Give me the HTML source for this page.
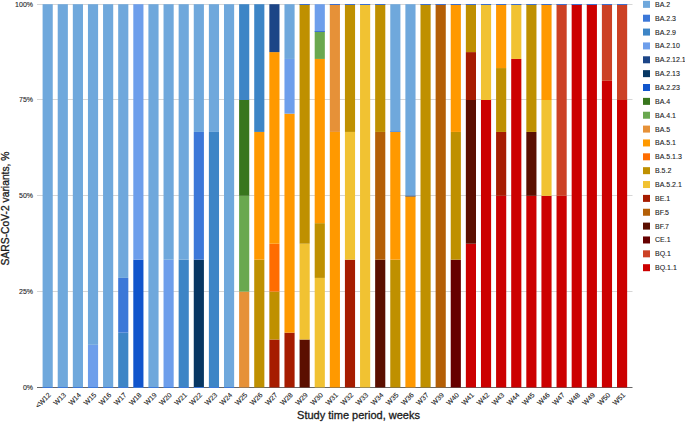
<!DOCTYPE html><html><head><meta charset="utf-8"><style>html,body{margin:0;padding:0;background:#fff;width:685px;height:422px;overflow:hidden}svg{display:block}text{font-family:"Liberation Sans", sans-serif}</style></head><body>
<svg width="685" height="422" viewBox="0 0 685 422">
<rect width="685" height="422" fill="#fff"/>
<rect x="37" y="4.00" width="595.5" height="1" fill="#d6d6d6"/>
<rect x="37" y="99.00" width="595.5" height="1" fill="#d6d6d6"/>
<rect x="37" y="195.00" width="595.5" height="1" fill="#d6d6d6"/>
<rect x="37" y="291.00" width="595.5" height="1" fill="#d6d6d6"/>
<text x="33" y="7.00" font-size="7" fill="#1a1a1a" stroke="#1a1a1a" stroke-width="0.1" text-anchor="end">100%</text>
<text x="33" y="102.00" font-size="7" fill="#1a1a1a" stroke="#1a1a1a" stroke-width="0.1" text-anchor="end">75%</text>
<text x="33" y="198.00" font-size="7" fill="#1a1a1a" stroke="#1a1a1a" stroke-width="0.1" text-anchor="end">50%</text>
<text x="33" y="294.00" font-size="7" fill="#1a1a1a" stroke="#1a1a1a" stroke-width="0.1" text-anchor="end">25%</text>
<text x="33" y="390.00" font-size="7" fill="#1a1a1a" stroke="#1a1a1a" stroke-width="0.1" text-anchor="end">0%</text>
<rect x="37" y="387" width="595.5" height="1" fill="#666"/>
<rect x="42.60" y="4.20" width="10.15" height="383.20" fill="#6fa8dc"/>
<rect x="57.72" y="4.20" width="10.15" height="383.20" fill="#6fa8dc"/>
<rect x="72.83" y="4.20" width="10.15" height="383.20" fill="#6fa8dc"/>
<rect x="87.95" y="344.82" width="10.15" height="42.58" fill="#6d9eeb"/>
<rect x="87.95" y="4.20" width="10.15" height="340.62" fill="#6fa8dc"/>
<rect x="103.06" y="4.20" width="10.15" height="383.20" fill="#6fa8dc"/>
<rect x="118.18" y="332.66" width="10.15" height="54.74" fill="#3d85c6"/>
<rect x="118.18" y="277.91" width="10.15" height="54.74" fill="#3c78d8"/>
<rect x="118.18" y="4.20" width="10.15" height="273.71" fill="#6fa8dc"/>
<rect x="133.30" y="259.67" width="10.15" height="127.73" fill="#1155cc"/>
<rect x="133.30" y="4.20" width="10.15" height="255.47" fill="#6d9eeb"/>
<rect x="148.41" y="4.20" width="10.15" height="383.20" fill="#6fa8dc"/>
<rect x="163.53" y="259.67" width="10.15" height="127.73" fill="#6d9eeb"/>
<rect x="163.53" y="4.20" width="10.15" height="255.47" fill="#6fa8dc"/>
<rect x="178.64" y="259.67" width="10.15" height="127.73" fill="#3d85c6"/>
<rect x="178.64" y="4.20" width="10.15" height="255.47" fill="#6fa8dc"/>
<rect x="193.76" y="259.67" width="10.15" height="127.73" fill="#073763"/>
<rect x="193.76" y="131.93" width="10.15" height="127.73" fill="#3c78d8"/>
<rect x="193.76" y="4.20" width="10.15" height="127.73" fill="#6fa8dc"/>
<rect x="208.88" y="131.93" width="10.15" height="255.47" fill="#3d85c6"/>
<rect x="208.88" y="4.20" width="10.15" height="127.73" fill="#6fa8dc"/>
<rect x="223.99" y="4.20" width="10.15" height="383.20" fill="#6fa8dc"/>
<rect x="239.11" y="291.60" width="10.15" height="95.80" fill="#e69138"/>
<rect x="239.11" y="195.80" width="10.15" height="95.80" fill="#6aa84f"/>
<rect x="239.11" y="100.00" width="10.15" height="95.80" fill="#38761d"/>
<rect x="239.11" y="4.20" width="10.15" height="95.80" fill="#3d85c6"/>
<rect x="254.22" y="259.67" width="10.15" height="127.73" fill="#bf9000"/>
<rect x="254.22" y="131.93" width="10.15" height="127.73" fill="#ff9900"/>
<rect x="254.22" y="4.20" width="10.15" height="127.73" fill="#3d85c6"/>
<rect x="269.34" y="339.50" width="10.15" height="47.90" fill="#a61c00"/>
<rect x="269.34" y="291.60" width="10.15" height="47.90" fill="#bf9000"/>
<rect x="269.34" y="243.70" width="10.15" height="47.90" fill="#ff6d01"/>
<rect x="269.34" y="52.10" width="10.15" height="191.60" fill="#ff9900"/>
<rect x="269.34" y="4.20" width="10.15" height="47.90" fill="#1c4587"/>
<rect x="284.46" y="332.66" width="10.15" height="54.74" fill="#a61c00"/>
<rect x="284.46" y="113.69" width="10.15" height="218.97" fill="#ff9900"/>
<rect x="284.46" y="58.94" width="10.15" height="54.74" fill="#6d9eeb"/>
<rect x="284.46" y="4.20" width="10.15" height="54.74" fill="#6fa8dc"/>
<rect x="299.57" y="339.50" width="10.15" height="47.90" fill="#5b0f00"/>
<rect x="299.57" y="243.70" width="10.15" height="95.80" fill="#f1c232"/>
<rect x="299.57" y="4.20" width="10.15" height="239.50" fill="#bf9000"/>
<rect x="299.57" y="4" width="10.15" height="1" fill="#3c6fd0"/>
<rect x="314.69" y="277.91" width="10.15" height="109.49" fill="#f1c232"/>
<rect x="314.69" y="223.17" width="10.15" height="54.74" fill="#bf9000"/>
<rect x="314.69" y="58.94" width="10.15" height="164.23" fill="#ff9900"/>
<rect x="314.69" y="31.57" width="10.15" height="27.37" fill="#6aa84f"/>
<rect x="314.69" y="4.20" width="10.15" height="27.37" fill="#6d9eeb"/>
<rect x="329.80" y="131.93" width="10.15" height="255.47" fill="#ff9900"/>
<rect x="329.80" y="4.20" width="10.15" height="127.73" fill="#e69138"/>
<rect x="329.80" y="4" width="10.15" height="1" fill="#3c6fd0"/>
<rect x="344.92" y="259.67" width="10.15" height="127.73" fill="#a61c00"/>
<rect x="344.92" y="131.93" width="10.15" height="127.73" fill="#f1c232"/>
<rect x="344.92" y="4.20" width="10.15" height="127.73" fill="#bf9000"/>
<rect x="344.92" y="4" width="10.15" height="1" fill="#3c6fd0"/>
<rect x="360.04" y="4.20" width="10.15" height="383.20" fill="#f1c232"/>
<rect x="360.04" y="4" width="10.15" height="1" fill="#3c6fd0"/>
<rect x="375.15" y="259.67" width="10.15" height="127.73" fill="#5b0f00"/>
<rect x="375.15" y="131.93" width="10.15" height="127.73" fill="#b45f06"/>
<rect x="375.15" y="4.20" width="10.15" height="127.73" fill="#bf9000"/>
<rect x="375.15" y="4" width="10.15" height="1" fill="#3c6fd0"/>
<rect x="390.27" y="259.67" width="10.15" height="127.73" fill="#bf9000"/>
<rect x="390.27" y="131.93" width="10.15" height="127.73" fill="#ff9900"/>
<rect x="390.27" y="4.20" width="10.15" height="127.73" fill="#6fa8dc"/>
<rect x="405.38" y="195.80" width="10.15" height="191.60" fill="#ff9900"/>
<rect x="405.38" y="4.20" width="10.15" height="191.60" fill="#6fa8dc"/>
<rect x="420.50" y="4.20" width="10.15" height="383.20" fill="#bf9000"/>
<rect x="420.50" y="4" width="10.15" height="1" fill="#3c6fd0"/>
<rect x="435.62" y="4.20" width="10.15" height="383.20" fill="#b45f06"/>
<rect x="435.62" y="4" width="10.15" height="1" fill="#3c6fd0"/>
<rect x="450.73" y="259.67" width="10.15" height="127.73" fill="#660000"/>
<rect x="450.73" y="131.93" width="10.15" height="127.73" fill="#bf9000"/>
<rect x="450.73" y="4.20" width="10.15" height="127.73" fill="#ff9900"/>
<rect x="450.73" y="4" width="10.15" height="1" fill="#3c6fd0"/>
<rect x="465.85" y="243.70" width="10.15" height="143.70" fill="#cc0000"/>
<rect x="465.85" y="100.00" width="10.15" height="143.70" fill="#5b0f00"/>
<rect x="465.85" y="52.10" width="10.15" height="47.90" fill="#a61c00"/>
<rect x="465.85" y="4.20" width="10.15" height="47.90" fill="#bf9000"/>
<rect x="465.85" y="4" width="10.15" height="1" fill="#3c6fd0"/>
<rect x="480.96" y="100.00" width="10.15" height="287.40" fill="#cc0000"/>
<rect x="480.96" y="4.20" width="10.15" height="95.80" fill="#f1c232"/>
<rect x="480.96" y="4" width="10.15" height="1" fill="#3c6fd0"/>
<rect x="496.08" y="195.80" width="10.15" height="191.60" fill="#cc0000"/>
<rect x="496.08" y="131.93" width="10.15" height="63.87" fill="#a61c00"/>
<rect x="496.08" y="68.07" width="10.15" height="63.87" fill="#bf9000"/>
<rect x="496.08" y="4.20" width="10.15" height="63.87" fill="#ff9900"/>
<rect x="496.08" y="4" width="10.15" height="1" fill="#3c6fd0"/>
<rect x="511.20" y="58.94" width="10.15" height="328.46" fill="#cc0000"/>
<rect x="511.20" y="4.20" width="10.15" height="54.74" fill="#f1c232"/>
<rect x="511.20" y="4" width="10.15" height="1" fill="#3c6fd0"/>
<rect x="526.31" y="195.80" width="10.15" height="191.60" fill="#cc0000"/>
<rect x="526.31" y="131.93" width="10.15" height="63.87" fill="#5b0f00"/>
<rect x="526.31" y="4.20" width="10.15" height="127.73" fill="#bf9000"/>
<rect x="526.31" y="4" width="10.15" height="1" fill="#3c6fd0"/>
<rect x="541.43" y="195.80" width="10.15" height="191.60" fill="#cc0000"/>
<rect x="541.43" y="100.00" width="10.15" height="95.80" fill="#f1c232"/>
<rect x="541.43" y="4.20" width="10.15" height="95.80" fill="#ff9900"/>
<rect x="541.43" y="4" width="10.15" height="1" fill="#3c6fd0"/>
<rect x="556.54" y="195.80" width="10.15" height="191.60" fill="#cc0000"/>
<rect x="556.54" y="4.20" width="10.15" height="191.60" fill="#cc4125"/>
<rect x="556.54" y="4" width="10.15" height="1" fill="#3c6fd0"/>
<rect x="571.66" y="4.20" width="10.15" height="383.20" fill="#cc0000"/>
<rect x="571.66" y="4" width="10.15" height="1" fill="#3c6fd0"/>
<rect x="586.78" y="4.20" width="10.15" height="383.20" fill="#cc0000"/>
<rect x="586.78" y="4" width="10.15" height="1" fill="#3c6fd0"/>
<rect x="601.89" y="80.84" width="10.15" height="306.56" fill="#cc0000"/>
<rect x="601.89" y="4.20" width="10.15" height="76.64" fill="#cc4125"/>
<rect x="601.89" y="4" width="10.15" height="1" fill="#3c6fd0"/>
<rect x="617.01" y="100.00" width="10.15" height="287.40" fill="#cc0000"/>
<rect x="617.01" y="4.20" width="10.15" height="95.80" fill="#cc4125"/>
<rect x="617.01" y="4" width="10.15" height="1" fill="#3c6fd0"/>
<rect x="314.69" y="31" width="10.15" height="1" fill="#3c72d4"/>
<rect x="390.27" y="131" width="10.15" height="1" fill="#5d97e2"/>
<rect x="405.38" y="195.6" width="10.15" height="1" fill="#4a6aa6"/>
<rect x="42.60" y="387" width="10.15" height="1" fill="#3c78d8"/>
<rect x="57.72" y="387" width="10.15" height="1" fill="#3c78d8"/>
<rect x="72.83" y="387" width="10.15" height="1" fill="#3c78d8"/>
<rect x="87.95" y="387" width="10.15" height="1" fill="#3c78d8"/>
<rect x="103.06" y="387" width="10.15" height="1" fill="#3c78d8"/>
<rect x="118.18" y="387" width="10.15" height="1" fill="#3c78d8"/>
<rect x="133.30" y="387" width="10.15" height="1" fill="#3c78d8"/>
<rect x="148.41" y="387" width="10.15" height="1" fill="#3c78d8"/>
<rect x="163.53" y="387" width="10.15" height="1" fill="#3c78d8"/>
<rect x="178.64" y="387" width="10.15" height="1" fill="#3c78d8"/>
<rect x="193.76" y="387" width="10.15" height="1" fill="#3c78d8"/>
<rect x="208.88" y="387" width="10.15" height="1" fill="#3c78d8"/>
<rect x="223.99" y="387" width="10.15" height="1" fill="#3c78d8"/>
<text transform="translate(51.38 395.50) rotate(-45)" font-size="7" fill="#1a1a1a" stroke="#1a1a1a" stroke-width="0.1" text-anchor="end">&lt;W12</text>
<text transform="translate(66.49 395.50) rotate(-45)" font-size="7" fill="#1a1a1a" stroke="#1a1a1a" stroke-width="0.1" text-anchor="end">W13</text>
<text transform="translate(81.61 395.50) rotate(-45)" font-size="7" fill="#1a1a1a" stroke="#1a1a1a" stroke-width="0.1" text-anchor="end">W14</text>
<text transform="translate(96.72 395.50) rotate(-45)" font-size="7" fill="#1a1a1a" stroke="#1a1a1a" stroke-width="0.1" text-anchor="end">W15</text>
<text transform="translate(111.84 395.50) rotate(-45)" font-size="7" fill="#1a1a1a" stroke="#1a1a1a" stroke-width="0.1" text-anchor="end">W16</text>
<text transform="translate(126.96 395.50) rotate(-45)" font-size="7" fill="#1a1a1a" stroke="#1a1a1a" stroke-width="0.1" text-anchor="end">W17</text>
<text transform="translate(142.07 395.50) rotate(-45)" font-size="7" fill="#1a1a1a" stroke="#1a1a1a" stroke-width="0.1" text-anchor="end">W18</text>
<text transform="translate(157.19 395.50) rotate(-45)" font-size="7" fill="#1a1a1a" stroke="#1a1a1a" stroke-width="0.1" text-anchor="end">W19</text>
<text transform="translate(172.30 395.50) rotate(-45)" font-size="7" fill="#1a1a1a" stroke="#1a1a1a" stroke-width="0.1" text-anchor="end">W20</text>
<text transform="translate(187.42 395.50) rotate(-45)" font-size="7" fill="#1a1a1a" stroke="#1a1a1a" stroke-width="0.1" text-anchor="end">W21</text>
<text transform="translate(202.53 395.50) rotate(-45)" font-size="7" fill="#1a1a1a" stroke="#1a1a1a" stroke-width="0.1" text-anchor="end">W22</text>
<text transform="translate(217.65 395.50) rotate(-45)" font-size="7" fill="#1a1a1a" stroke="#1a1a1a" stroke-width="0.1" text-anchor="end">W23</text>
<text transform="translate(232.77 395.50) rotate(-45)" font-size="7" fill="#1a1a1a" stroke="#1a1a1a" stroke-width="0.1" text-anchor="end">W24</text>
<text transform="translate(247.88 395.50) rotate(-45)" font-size="7" fill="#1a1a1a" stroke="#1a1a1a" stroke-width="0.1" text-anchor="end">W25</text>
<text transform="translate(263.00 395.50) rotate(-45)" font-size="7" fill="#1a1a1a" stroke="#1a1a1a" stroke-width="0.1" text-anchor="end">W26</text>
<text transform="translate(278.12 395.50) rotate(-45)" font-size="7" fill="#1a1a1a" stroke="#1a1a1a" stroke-width="0.1" text-anchor="end">W27</text>
<text transform="translate(293.23 395.50) rotate(-45)" font-size="7" fill="#1a1a1a" stroke="#1a1a1a" stroke-width="0.1" text-anchor="end">W28</text>
<text transform="translate(308.35 395.50) rotate(-45)" font-size="7" fill="#1a1a1a" stroke="#1a1a1a" stroke-width="0.1" text-anchor="end">W29</text>
<text transform="translate(323.46 395.50) rotate(-45)" font-size="7" fill="#1a1a1a" stroke="#1a1a1a" stroke-width="0.1" text-anchor="end">W30</text>
<text transform="translate(338.58 395.50) rotate(-45)" font-size="7" fill="#1a1a1a" stroke="#1a1a1a" stroke-width="0.1" text-anchor="end">W31</text>
<text transform="translate(353.69 395.50) rotate(-45)" font-size="7" fill="#1a1a1a" stroke="#1a1a1a" stroke-width="0.1" text-anchor="end">W32</text>
<text transform="translate(368.81 395.50) rotate(-45)" font-size="7" fill="#1a1a1a" stroke="#1a1a1a" stroke-width="0.1" text-anchor="end">W33</text>
<text transform="translate(383.93 395.50) rotate(-45)" font-size="7" fill="#1a1a1a" stroke="#1a1a1a" stroke-width="0.1" text-anchor="end">W34</text>
<text transform="translate(399.04 395.50) rotate(-45)" font-size="7" fill="#1a1a1a" stroke="#1a1a1a" stroke-width="0.1" text-anchor="end">W35</text>
<text transform="translate(414.16 395.50) rotate(-45)" font-size="7" fill="#1a1a1a" stroke="#1a1a1a" stroke-width="0.1" text-anchor="end">W36</text>
<text transform="translate(429.27 395.50) rotate(-45)" font-size="7" fill="#1a1a1a" stroke="#1a1a1a" stroke-width="0.1" text-anchor="end">W37</text>
<text transform="translate(444.39 395.50) rotate(-45)" font-size="7" fill="#1a1a1a" stroke="#1a1a1a" stroke-width="0.1" text-anchor="end">W39</text>
<text transform="translate(459.51 395.50) rotate(-45)" font-size="7" fill="#1a1a1a" stroke="#1a1a1a" stroke-width="0.1" text-anchor="end">W40</text>
<text transform="translate(474.62 395.50) rotate(-45)" font-size="7" fill="#1a1a1a" stroke="#1a1a1a" stroke-width="0.1" text-anchor="end">W41</text>
<text transform="translate(489.74 395.50) rotate(-45)" font-size="7" fill="#1a1a1a" stroke="#1a1a1a" stroke-width="0.1" text-anchor="end">W42</text>
<text transform="translate(504.86 395.50) rotate(-45)" font-size="7" fill="#1a1a1a" stroke="#1a1a1a" stroke-width="0.1" text-anchor="end">W43</text>
<text transform="translate(519.97 395.50) rotate(-45)" font-size="7" fill="#1a1a1a" stroke="#1a1a1a" stroke-width="0.1" text-anchor="end">W44</text>
<text transform="translate(535.09 395.50) rotate(-45)" font-size="7" fill="#1a1a1a" stroke="#1a1a1a" stroke-width="0.1" text-anchor="end">W45</text>
<text transform="translate(550.20 395.50) rotate(-45)" font-size="7" fill="#1a1a1a" stroke="#1a1a1a" stroke-width="0.1" text-anchor="end">W46</text>
<text transform="translate(565.32 395.50) rotate(-45)" font-size="7" fill="#1a1a1a" stroke="#1a1a1a" stroke-width="0.1" text-anchor="end">W47</text>
<text transform="translate(580.44 395.50) rotate(-45)" font-size="7" fill="#1a1a1a" stroke="#1a1a1a" stroke-width="0.1" text-anchor="end">W48</text>
<text transform="translate(595.55 395.50) rotate(-45)" font-size="7" fill="#1a1a1a" stroke="#1a1a1a" stroke-width="0.1" text-anchor="end">W49</text>
<text transform="translate(610.67 395.50) rotate(-45)" font-size="7" fill="#1a1a1a" stroke="#1a1a1a" stroke-width="0.1" text-anchor="end">W50</text>
<text transform="translate(625.78 395.50) rotate(-45)" font-size="7" fill="#1a1a1a" stroke="#1a1a1a" stroke-width="0.1" text-anchor="end">W51</text>
<rect x="643" y="0.85" width="7" height="7" fill="#6fa8dc"/>
<text x="655" y="6.85" font-size="7" fill="#1a1a1a" stroke="#1a1a1a" stroke-width="0.1">BA.2</text>
<rect x="643" y="14.71" width="7" height="7" fill="#3c78d8"/>
<text x="655" y="20.71" font-size="7" fill="#1a1a1a" stroke="#1a1a1a" stroke-width="0.1">BA.2.3</text>
<rect x="643" y="28.57" width="7" height="7" fill="#3d85c6"/>
<text x="655" y="34.57" font-size="7" fill="#1a1a1a" stroke="#1a1a1a" stroke-width="0.1">BA.2.9</text>
<rect x="643" y="42.43" width="7" height="7" fill="#6d9eeb"/>
<text x="655" y="48.43" font-size="7" fill="#1a1a1a" stroke="#1a1a1a" stroke-width="0.1">BA.2.10</text>
<rect x="643" y="56.29" width="7" height="7" fill="#1c4587"/>
<text x="655" y="62.29" font-size="7" fill="#1a1a1a" stroke="#1a1a1a" stroke-width="0.1">BA.2.12.1</text>
<rect x="643" y="70.15" width="7" height="7" fill="#073763"/>
<text x="655" y="76.15" font-size="7" fill="#1a1a1a" stroke="#1a1a1a" stroke-width="0.1">BA.2.13</text>
<rect x="643" y="84.01" width="7" height="7" fill="#1155cc"/>
<text x="655" y="90.01" font-size="7" fill="#1a1a1a" stroke="#1a1a1a" stroke-width="0.1">BA.2.23</text>
<rect x="643" y="97.87" width="7" height="7" fill="#38761d"/>
<text x="655" y="103.87" font-size="7" fill="#1a1a1a" stroke="#1a1a1a" stroke-width="0.1">BA.4</text>
<rect x="643" y="111.73" width="7" height="7" fill="#6aa84f"/>
<text x="655" y="117.73" font-size="7" fill="#1a1a1a" stroke="#1a1a1a" stroke-width="0.1">BA.4.1</text>
<rect x="643" y="125.59" width="7" height="7" fill="#e69138"/>
<text x="655" y="131.59" font-size="7" fill="#1a1a1a" stroke="#1a1a1a" stroke-width="0.1">BA.5</text>
<rect x="643" y="139.45" width="7" height="7" fill="#ff9900"/>
<text x="655" y="145.45" font-size="7" fill="#1a1a1a" stroke="#1a1a1a" stroke-width="0.1">BA.5.1</text>
<rect x="643" y="153.31" width="7" height="7" fill="#ff6d01"/>
<text x="655" y="159.31" font-size="7" fill="#1a1a1a" stroke="#1a1a1a" stroke-width="0.1">BA.5.1.3</text>
<rect x="643" y="167.17" width="7" height="7" fill="#bf9000"/>
<text x="655" y="173.17" font-size="7" fill="#1a1a1a" stroke="#1a1a1a" stroke-width="0.1">B.5.2</text>
<rect x="643" y="181.03" width="7" height="7" fill="#f1c232"/>
<text x="655" y="187.03" font-size="7" fill="#1a1a1a" stroke="#1a1a1a" stroke-width="0.1">BA.5.2.1</text>
<rect x="643" y="194.89" width="7" height="7" fill="#a61c00"/>
<text x="655" y="200.89" font-size="7" fill="#1a1a1a" stroke="#1a1a1a" stroke-width="0.1">BE.1</text>
<rect x="643" y="208.75" width="7" height="7" fill="#b45f06"/>
<text x="655" y="214.75" font-size="7" fill="#1a1a1a" stroke="#1a1a1a" stroke-width="0.1">BF.5</text>
<rect x="643" y="222.61" width="7" height="7" fill="#5b0f00"/>
<text x="655" y="228.61" font-size="7" fill="#1a1a1a" stroke="#1a1a1a" stroke-width="0.1">BF.7</text>
<rect x="643" y="236.47" width="7" height="7" fill="#660000"/>
<text x="655" y="242.47" font-size="7" fill="#1a1a1a" stroke="#1a1a1a" stroke-width="0.1">CE.1</text>
<rect x="643" y="250.33" width="7" height="7" fill="#cc4125"/>
<text x="655" y="256.33" font-size="7" fill="#1a1a1a" stroke="#1a1a1a" stroke-width="0.1">BQ.1</text>
<rect x="643" y="264.19" width="7" height="7" fill="#cc0000"/>
<text x="655" y="270.19" font-size="7" fill="#1a1a1a" stroke="#1a1a1a" stroke-width="0.1">BQ.1.1</text>
<text x="358.5" y="419" font-size="11" fill="#1a1a1a" stroke="#1a1a1a" stroke-width="0.3" text-anchor="middle">Study time period, weeks</text>
<text transform="translate(9.3 208.45) rotate(-90)" font-size="10.3" fill="#1a1a1a" stroke="#1a1a1a" stroke-width="0.3" text-anchor="middle">SARS-CoV-2 variants, %</text>
</svg></body></html>
